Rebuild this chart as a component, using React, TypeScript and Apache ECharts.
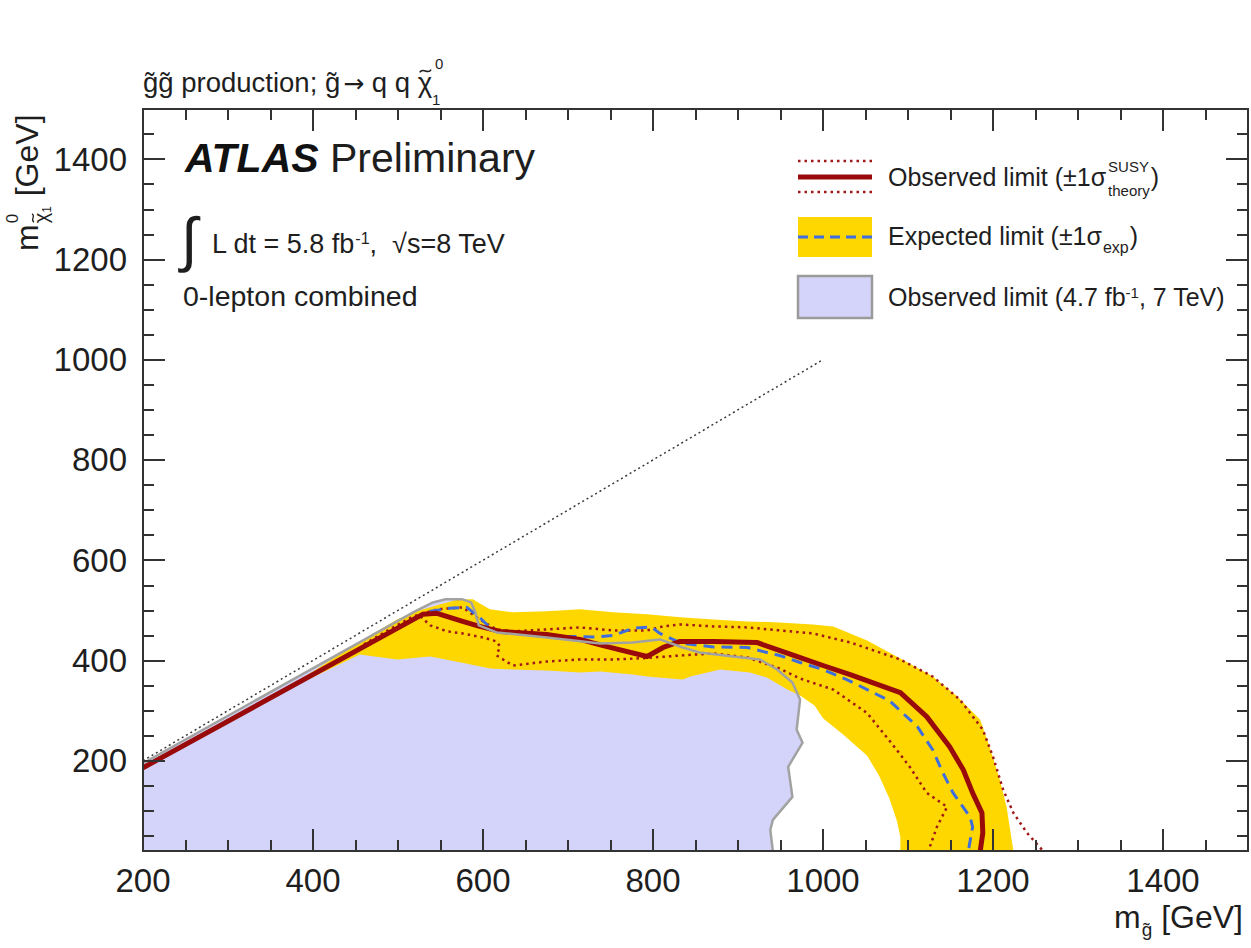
import React, { useEffect, useRef } from "react";
import * as echarts from "echarts";

const FONT = "'Liberation Sans', Arial, Helvetica, sans-serif";
const ARROW_FONT = "'DejaVu Sans', 'Liberation Sans', sans-serif";

// ---- axis ticks ----
const xMajorTicks = [200, 400, 600, 800, 1000, 1200, 1400];
const xMinorTicks = [250, 300, 350, 450, 500, 550, 650, 700, 750, 850, 900, 950, 1050, 1100, 1150, 1250, 1300, 1350, 1450];
const yMajorTicks = [200, 400, 600, 800, 1000, 1200, 1400];
const yMinorTicks = [50, 100, 150, 250, 300, 350, 450, 500, 550, 650, 700, 750, 850, 900, 950, 1050, 1100, 1150, 1250, 1300, 1350, 1450];

// ---- data (m_gluino, m_neutralino) in GeV ----
const kinematicLine = [[200, 200], [1000, 1000]];

const observed7TeV = [
  [200, 195], [520, 498], [540, 515], [556, 522], [576, 522], [586, 516], [591, 496], [595, 470],
  [616, 456], [675, 446], [738, 434], [776, 436], [808, 442], [835, 426], [855, 416], [894, 408],
  [926, 402], [946, 382], [964, 356], [973, 322], [969, 262], [976, 236], [959, 188], [964, 128],
  [941, 82], [938, 62], [941, 20],
];

const expectedUpper = [
  [380, 356], [420, 400], [475, 458], [499, 482], [518, 496], [550, 512], [572, 522], [588, 522],
  [600, 510], [608, 502], [635, 496], [675, 498], [714, 502], [753, 496], [793, 492], [832, 486],
  [871, 482], [911, 478], [949, 476], [988, 472], [1012, 468], [1052, 440], [1091, 404], [1129, 368],
  [1158, 328], [1185, 282], [1196, 228], [1208, 162], [1216, 108], [1224, 20],
];
const expectedLower = [
  [380, 350], [455, 412], [499, 402], [538, 408], [580, 394], [608, 384], [635, 382], [675, 380],
  [714, 376], [738, 378], [776, 372], [793, 368], [835, 362], [844, 368], [879, 382], [914, 376],
  [934, 366], [958, 342], [973, 330], [990, 310], [1000, 285], [1024, 252], [1052, 210], [1066, 170],
  [1078, 125], [1087, 80], [1091, 48], [1091, 20],
];

const expectedNominal = [
  [500, 466], [538, 498], [560, 504], [581, 506], [596, 486], [608, 466], [620, 458], [655, 452],
  [694, 448], [734, 447], [753, 450], [776, 464], [798, 467], [808, 454], [834, 434], [871, 427],
  [911, 426], [934, 416], [949, 410], [973, 396], [1000, 382], [1028, 362], [1078, 320], [1111, 268],
  [1129, 222], [1141, 176], [1153, 136], [1173, 88], [1176, 68], [1171, 20],
];

const observedNominal = [
  [200, 186], [529, 492], [546, 494], [576, 478], [596, 468], [620, 458], [675, 452], [714, 442],
  [740, 430], [793, 408], [812, 426], [832, 438], [871, 438], [922, 436], [969, 408], [1000, 390],
  [1032, 372], [1091, 336], [1122, 288], [1149, 228], [1165, 182], [1176, 136], [1187, 96], [1188, 56],
  [1185, 20],
];

const observedPlus = [
  [460, 432], [490, 462], [518, 488], [546, 502], [576, 506], [596, 482], [616, 462], [635, 458],
  [675, 462], [714, 466], [753, 460], [793, 460], [812, 468], [832, 472], [871, 468], [911, 466],
  [949, 460], [988, 454], [1032, 436], [1091, 402], [1129, 368], [1161, 322], [1188, 262], [1200, 208],
  [1212, 142], [1224, 96], [1240, 56], [1259, 20],
];

const observedMinus = [
  [500, 466], [525, 490], [538, 470], [558, 458], [576, 454], [600, 446], [616, 438], [620, 428],
  [616, 410], [635, 390], [675, 398], [714, 402], [753, 402], [793, 405], [832, 410], [871, 414],
  [911, 406], [949, 384], [973, 364], [1012, 342], [1052, 295], [1082, 232], [1102, 188], [1122, 136],
  [1146, 108], [1134, 68], [1124, 20],
];

// ---- styles ----
const AXIS = "#333333";
const TEXT = "#1e1e1e";
const YELLOW = "#FFD700";
const LAVENDER = "#D4D4FA";
const GRAY = "#A2A2A2";
const RED = "#990A0A";
const RED_DOT = "#A01818";
const BLUE = "#3E6DE0";

let measureCtx: CanvasRenderingContext2D | null = null;
function textWidth(text: string, size: number, family = FONT) {
  if (!measureCtx) measureCtx = document.createElement("canvas").getContext("2d");
  if (!measureCtx) return text.length * size * 0.55;
  measureCtx.font = `normal normal ${size}px ${family}`;
  return measureCtx.measureText(text).width;
}

function txt(x: number, y: number, text: string, size: number, extra: any = {}) {
  return {
    type: "text",
    x,
    y,
    silent: true,
    style: {
      text,
      fontSize: size,
      fontFamily: extra.fontFamily || FONT,
      fill: TEXT,
      align: extra.align || "left",
      verticalAlign: "middle",
      fontWeight: extra.fontWeight || "normal",
      fontStyle: extra.fontStyle || "normal",
      rich: extra.rich,
    },
  };
}

// small tilde accent drawn as a curve
function tilde(x: number, y: number, w: number, lw = 1.4) {
  return {
    type: "bezierCurve",
    silent: true,
    shape: {
      x1: x, y1: y + w * 0.12,
      cpx1: x + w * 0.3, cpy1: y - w * 0.4,
      cpx2: x + w * 0.7, cpy2: y + w * 0.4,
      x2: x + w, y2: y - w * 0.12,
    },
    style: { stroke: TEXT, lineWidth: lw, fill: null },
  };
}

const plainNumber = (v: number) => String(v);

function xAxisDef(position: string, ticks: number[], len: number, labels: boolean) {
  return {
    type: "value",
    min: 200,
    max: 1500,
    position,
    z: 10,
    axisLine: { show: true, onZero: false, lineStyle: { color: AXIS, width: 2 } },
    axisTick: { show: true, inside: true, length: len, customValues: ticks, lineStyle: { color: AXIS, width: 2 } },
    axisLabel: labels
      ? { show: true, customValues: ticks, formatter: plainNumber, fontSize: 33, fontFamily: FONT, color: TEXT, margin: 13 }
      : { show: false },
    splitLine: { show: false },
  };
}

function yAxisDef(position: string, ticks: number[], len: number, labels: boolean) {
  return {
    type: "value",
    min: 20,
    max: 1500,
    position,
    z: 10,
    axisLine: { show: true, onZero: false, lineStyle: { color: AXIS, width: 2 } },
    axisTick: { show: true, inside: true, length: len, customValues: ticks, lineStyle: { color: AXIS, width: 2 } },
    axisLabel: labels
      ? { show: true, customValues: ticks, formatter: plainNumber, fontSize: 33, fontFamily: FONT, color: TEXT, margin: 16 }
      : { show: false },
    splitLine: { show: false },
  };
}

function polygonSeries(points: number[][], fill: string) {
  return {
    type: "custom",
    silent: true,
    clip: true,
    data: [[points[0][0], points[0][1]]],
    renderItem: (_params: any, api: any) => ({
      type: "polygon",
      shape: { points: points.map((p) => api.coord(p)) },
      style: { fill, lineWidth: 0 },
    }),
  };
}

function lineSeries(data: number[][], color: string, width: number, dash?: any) {
  return {
    type: "line",
    data,
    symbol: "none",
    showSymbol: false,
    silent: true,
    smooth: false,
    lineStyle: { color, width, type: dash || "solid", cap: "butt", join: "round" },
  };
}

export default function App() {
  const ref = useRef<HTMLDivElement>(null);

  useEffect(() => {
    if (!ref.current) return;
    const chart = echarts.init(ref.current, undefined, { renderer: "svg" });

    const graphics: any[] = [];

    // Top title
    const TY = 82;
    const TF = 27.5;
    const part1 = "g\u0303g\u0303 production; g\u0303";
    const p1w = textWidth(part1, TF);
    const arrowX = 143 + p1w + 3;
    const arrowW = textWidth("\u2192", 25, ARROW_FONT);
    const part2 = " q q ";
    const qX = arrowX + arrowW;
    const p2w = textWidth(part2, TF);
    const chiX = qX + p2w;
    const chiWt = textWidth("\u03C7", TF);
    graphics.push(txt(143, TY, part1, TF));
    graphics.push(txt(arrowX, TY + 1, "\u2192", 25, { fontFamily: ARROW_FONT }));
    graphics.push(txt(qX, TY, part2, TF));
    graphics.push(txt(chiX, TY, "\u03C7", TF));
    graphics.push(tilde(chiX + 2, TY - 11, chiWt - 3, 1.5));
    graphics.push(txt(chiX + chiWt + 3, TY - 19, "0", 15));
    graphics.push(txt(chiX + chiWt, TY + 17, "1", 15));

    // ATLAS Preliminary
    graphics.push(
      txt(185, 158, "{b|ATLAS} {n|Preliminary}", 41, {
        rich: {
          b: { fontSize: 41, fontFamily: FONT, fontWeight: "bold", fontStyle: "italic", fill: "#111" },
          n: { fontSize: 41, fontFamily: FONT, fill: TEXT },
        },
      })
    );

    // Luminosity line
    graphics.push(txt(181, 239, "\u222B", 60));
    graphics.push(
      txt(212, 244, "{n|L dt = 5.8 fb}{s|-1}{n|,  \u221As=8 TeV}", 27, {
        rich: {
          n: { fontSize: 27, fontFamily: FONT, fill: TEXT },
          s: { fontSize: 16, fontFamily: FONT, fill: TEXT, verticalAlign: "top" },
        },
      })
    );
    graphics.push(txt(183, 296, "0-lepton combined", 28.5));

    // Legend
    const LX = 798;
    const LW = 74;
    graphics.push({ type: "line", silent: true, shape: { x1: LX, y1: 161, x2: LX + LW, y2: 161 }, style: { stroke: RED_DOT, lineWidth: 2.5, lineDash: [2.5, 4] } });
    graphics.push({ type: "line", silent: true, shape: { x1: LX, y1: 177, x2: LX + LW, y2: 177 }, style: { stroke: RED, lineWidth: 5 } });
    graphics.push({ type: "line", silent: true, shape: { x1: LX, y1: 192, x2: LX + LW, y2: 192 }, style: { stroke: RED_DOT, lineWidth: 2.5, lineDash: [2.5, 4] } });
    graphics.push({ type: "rect", silent: true, shape: { x: LX, y: 217, width: LW, height: 40 }, style: { fill: YELLOW } });
    graphics.push({ type: "line", silent: true, shape: { x1: LX, y1: 237, x2: LX + LW, y2: 237 }, style: { stroke: BLUE, lineWidth: 3, lineDash: [10, 6] } });
    graphics.push({ type: "rect", silent: true, shape: { x: LX, y: 276, width: LW, height: 42 }, style: { fill: LAVENDER, stroke: "#9a9a9a", lineWidth: 2.5 } });

    const TX = 888;
    const LF = 25;
    const leg1 = "Observed limit (\u00B11\u03C3";
    const l1w = textWidth(leg1, LF);
    graphics.push(txt(TX, 177, leg1, LF));
    graphics.push(txt(TX + l1w + 2, 166, "SUSY", 15));
    graphics.push(txt(TX + l1w + 2, 190, "theory", 15));
    const subw1 = Math.max(textWidth("SUSY", 15), textWidth("theory", 15));
    graphics.push(txt(TX + l1w + 3 + subw1, 177, ")", LF));

    const leg2 = "Expected limit (\u00B11\u03C3";
    const l2w = textWidth(leg2, LF);
    graphics.push(txt(TX, 236, leg2, LF));
    graphics.push(txt(TX + l2w + 1, 247, "exp", 16));
    graphics.push(txt(TX + l2w + 2 + textWidth("exp", 16), 236, ")", LF));

    graphics.push(
      txt(TX, 297, "{n|Observed limit (4.7 fb}{s|-1}{n|, 7 TeV)}", LF, {
        rich: {
          n: { fontSize: LF, fontFamily: FONT, fill: TEXT },
          s: { fontSize: 15, fontFamily: FONT, fill: TEXT, verticalAlign: "top" },
        },
      })
    );

    // X axis title
    const gev = " [GeV]";
    const gevW = textWidth(gev, 32);
    const gSubW = textWidth("g\u0303", 19);
    graphics.push(txt(1243, 917, gev, 32, { align: "right" }));
    graphics.push(txt(1243 - gevW - gSubW, 929, "g\u0303", 19));
    graphics.push(txt(1243 - gevW - gSubW - 1, 917, "m", 32, { align: "right" }));

    // Y axis title (rotated)
    const mW = textWidth("m", 32);
    const chiW = textWidth("\u03C7", 20);
    const oneW = textWidth("1", 12);
    graphics.push({
      type: "group",
      x: 38,
      y: 251,
      rotation: Math.PI / 2,
      silent: true,
      children: [
        txt(0, -11, "m", 32),
        txt(mW + 1, -26, "0", 17),
        txt(mW + 1, 3, "\u03C7", 20),
        tilde(mW + 2, -5, chiW - 2, 1.2),
        txt(mW + 1 + chiW, 9, "1", 12),
        txt(mW + 2 + chiW + oneW, -11, " [GeV]", 32),
      ],
    });

    const bandPolygon = [...expectedUpper, ...expectedLower.slice().reverse()];
    const lavenderPolygon = [[200, 20], ...observed7TeV];

    const option: any = {
      animation: false,
      backgroundColor: "#ffffff",
      grid: { left: 143, right: 3, top: 109, bottom: 97 },
      xAxis: [
        xAxisDef("bottom", xMajorTicks, 22, true),
        xAxisDef("bottom", xMinorTicks, 11, false),
        xAxisDef("top", xMajorTicks, 22, false),
        xAxisDef("top", xMinorTicks, 11, false),
      ],
      yAxis: [
        yAxisDef("left", yMajorTicks, 22, true),
        yAxisDef("left", yMinorTicks, 11, false),
        yAxisDef("right", yMajorTicks, 22, false),
        yAxisDef("right", yMinorTicks, 11, false),
      ],
      series: [
        polygonSeries(lavenderPolygon, LAVENDER),
        polygonSeries(bandPolygon, YELLOW),
        lineSeries(kinematicLine, "#3a3a3a", 1.5, [2, 3]),
        lineSeries(observedPlus, RED_DOT, 2.5, [2.5, 4]),
        lineSeries(observedMinus, RED_DOT, 2.5, [2.5, 4]),
        lineSeries(expectedNominal, BLUE, 3, [11, 7]),
        lineSeries(observedNominal, RED, 5),
        lineSeries(observed7TeV, GRAY, 2.5),
      ],
      graphic: { elements: graphics },
    };

    chart.setOption(option);
    return () => {
      chart.dispose();
    };
  }, []);

  return (
    <div
      ref={ref}
      style={{ position: "absolute", left: 0, top: 0, width: 1251, height: 948, background: "#fff" }}
    />
  );
}
